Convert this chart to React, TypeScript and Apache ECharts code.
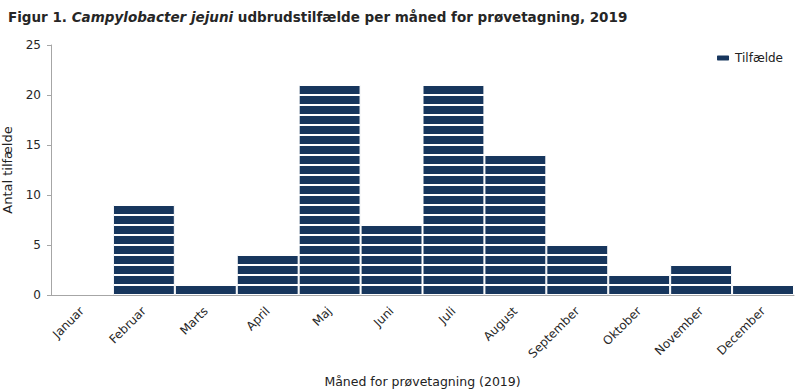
import React, { useEffect, useRef } from "react";
import * as echarts from "echarts";

const months = ["Januar", "Februar", "Marts", "April", "Maj", "Juni", "Juli", "August", "September", "Oktober", "November", "December"];
const cases = [0, 9, 1, 4, 21, 7, 21, 14, 5, 2, 3, 1];
const yTicks = [0, 5, 10, 15, 20, 25];
const seriesName = "Tilfælde";

const FONT = "'Century Gothic', 'DejaVu Sans', sans-serif";
const NAVY = "#17365d";

export default function App() {
  const ref = useRef<HTMLDivElement>(null);
  useEffect(() => {
    if (!ref.current) return;
    const chart = echarts.init(ref.current, null, { renderer: "svg" });
    const maxCount = Math.max(...cases);
    const levels: any[] = [];
    for (let k = 1; k <= maxCount; k++) {
      levels.push({
        name: seriesName,
        type: "bar",
        stack: "cases",
        barCategoryGap: "0%",
        data: cases.map((c) => (c >= k ? 1 : "-")),
        itemStyle: { color: NAVY, borderColor: "#ffffff", borderWidth: 1 },
        emphasis: { disabled: true },
      });
    }
    chart.setOption({
      animation: false,
      title: {
        left: 3,
        top: 5,
        text: "{b|Figur 1. }{i|Campylobacter jejuni}{b| udbrudstilfælde per måned for prøvetagning, 2019}",
        textStyle: {
          rich: {
            b: { fontFamily: FONT, fontSize: 13.5, fontWeight: "bold", color: "#262626" },
            i: { fontFamily: FONT, fontSize: 13.5, fontWeight: "bold", fontStyle: "italic", color: "#262626" },
          },
        },
      },
      legend: {
        data: [seriesName],
        right: 12,
        top: 47,
        itemWidth: 14,
        itemHeight: 7,
        itemGap: 6,
        textStyle: { fontFamily: FONT, fontSize: 12, color: "#222" },
      },
      grid: { left: 51, right: 6, top: 45, bottom: 95, containLabel: false, outerBoundsMode: "none" },
      xAxis: {
        type: "category",
        data: months,
        name: "Måned for prøvetagning (2019)",
        nameLocation: "middle",
        nameGap: 80,
        nameTextStyle: { fontFamily: FONT, fontSize: 12.5, color: "#222" },
        axisLine: { lineStyle: { color: "#a6a6a6", width: 1 } },
        axisTick: { alignWithLabel: false, length: 5, lineStyle: { color: "#a6a6a6" } },
        axisLabel: { rotate: 45, interval: 0, fontFamily: FONT, fontSize: 12, color: "#262626", margin: 14 },
      },
      yAxis: {
        type: "value",
        min: 0,
        max: 25,
        interval: 5,
        name: "Antal tilfælde",
        nameLocation: "middle",
        nameGap: 37,
        nameTextStyle: { fontFamily: FONT, fontSize: 13, color: "#222" },
        axisLine: { show: true, lineStyle: { color: "#a6a6a6" } },
        axisTick: { show: true, length: 4, lineStyle: { color: "#a6a6a6" } },
        axisLabel: {
          fontFamily: FONT,
          fontSize: 12,
          color: "#262626",
          margin: 10,
          formatter: (v: number) => (yTicks.includes(v) ? String(v) : ""),
        },
        splitLine: { show: false },
      },
      series: levels,
    });
    return () => chart.dispose();
  }, []);
  return <div ref={ref} style={{ width: 800, height: 390, position: "absolute", left: 0, top: 0 }} />;
}
